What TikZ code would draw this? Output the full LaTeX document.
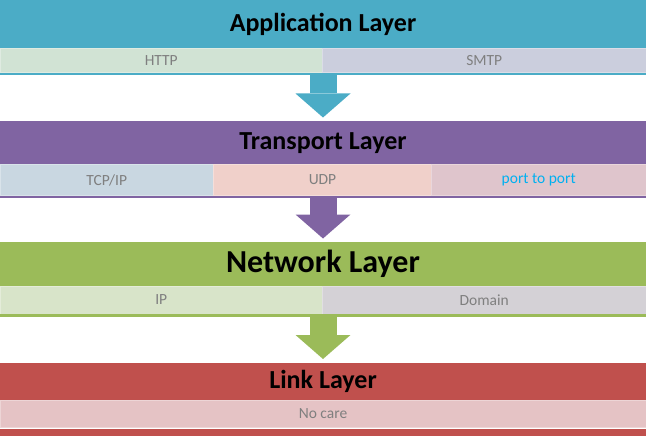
\documentclass[tikz,border=0pt]{standalone}
\usepackage{fontspec}
\setmainfont{Carlito}
\usetikzlibrary{positioning, arrows.meta}

\definecolor{appc}{HTML}{4BACC6}
\definecolor{transc}{HTML}{8064A2}
\definecolor{netc}{HTML}{9BBB59}
\definecolor{linkc}{HTML}{C0504D}
\definecolor{httpc}{HTML}{D1E3D4}
\definecolor{smtpc}{HTML}{CBCEDD}
\definecolor{tcpc}{HTML}{C9D7E1}
\definecolor{udpc}{HTML}{F0D0CA}
\definecolor{portc}{HTML}{DFC5CC}
\definecolor{ipc}{HTML}{D8E4C9}
\definecolor{domainc}{HTML}{D4D1D6}
\definecolor{carec}{HTML}{E5C3C5}
\definecolor{labelc}{HTML}{7F7F7F}
\definecolor{portt}{HTML}{00B0F0}

\tikzset{
layerband/.style={anchor=north west, inner sep=0, outer sep=0, minimum width=646pt, fill=#1,
  font=\bfseries\fontsize{26}{28}\selectfont},
subcell/.style={anchor=north west, inner sep=0, outer sep=0, fill=#1, draw=#1!70!white, line width=1pt,
  text=labelc, font=\fontsize{15.5}{17}\selectfont},
layerline/.style={anchor=north west, inner sep=0, outer sep=0, minimum width=646pt, minimum height=2.5pt, fill=#1},
blockarrow/.style={#1, line width=27pt, -{Triangle[length=24pt, width=55pt, line width=0pt]}, shorten >=3.5pt}
}

\begin{document}
\begin{tikzpicture}[x=1pt, y=-1pt]
\useasboundingbox (0,0) rectangle (646,436);

\node[layerband=appc, minimum height=48.5pt] (app) at (0,0) {Application Layer};
\node[subcell=httpc, minimum width=322.5pt, minimum height=24.5pt] (http) at (app.south west) {HTTP};
\node[subcell=smtpc, minimum width=323.5pt, minimum height=24.5pt, right=0pt of http] (smtp) {SMTP};
\node[layerline=appc] (appline) at (http.south west) {};

\node[layerband=transc, minimum height=43.5pt] (trans) at (0,121) {Transport Layer};
\node[subcell=tcpc, minimum width=213.5pt, minimum height=31pt] (tcp) at (trans.south west) {TCP/IP};
\node[subcell=udpc, minimum width=218pt, minimum height=31pt, right=0pt of tcp] (udp) {UDP};
\node[subcell=portc, minimum width=214.5pt, minimum height=31pt, right=0pt of udp, text=portt] (port) {port to port};
\node[layerline=transc] (transline) at (tcp.south west) {};

\node[layerband=netc, minimum height=44pt, font=\bfseries\fontsize{32}{34}\selectfont] (net) at (0,242) {Network Layer};
\node[subcell=ipc, minimum width=322.5pt, minimum height=28pt] (ip) at (net.south west) {IP};
\node[subcell=domainc, minimum width=323.5pt, minimum height=28pt, right=0pt of ip] (domain) {Domain};
\node[layerline=netc] (netline) at (ip.south west) {};

\node[layerband=linkc, minimum height=37.5pt] (link) at (0,362.5) {Link Layer};
\node[subcell=carec, minimum width=646pt, minimum height=27pt] (care) at (link.south west) {No care};
\node[layerband=linkc, minimum height=7.5pt] (linkfoot) at (0,428.5) {};

\foreach \a/\b/\c in {appline/trans/appc, transline/net/transc, netline/link/netc} {
\draw[blockarrow=\c] (\a.south) -- (\b.north);
};

\end{tikzpicture}
\end{document}
